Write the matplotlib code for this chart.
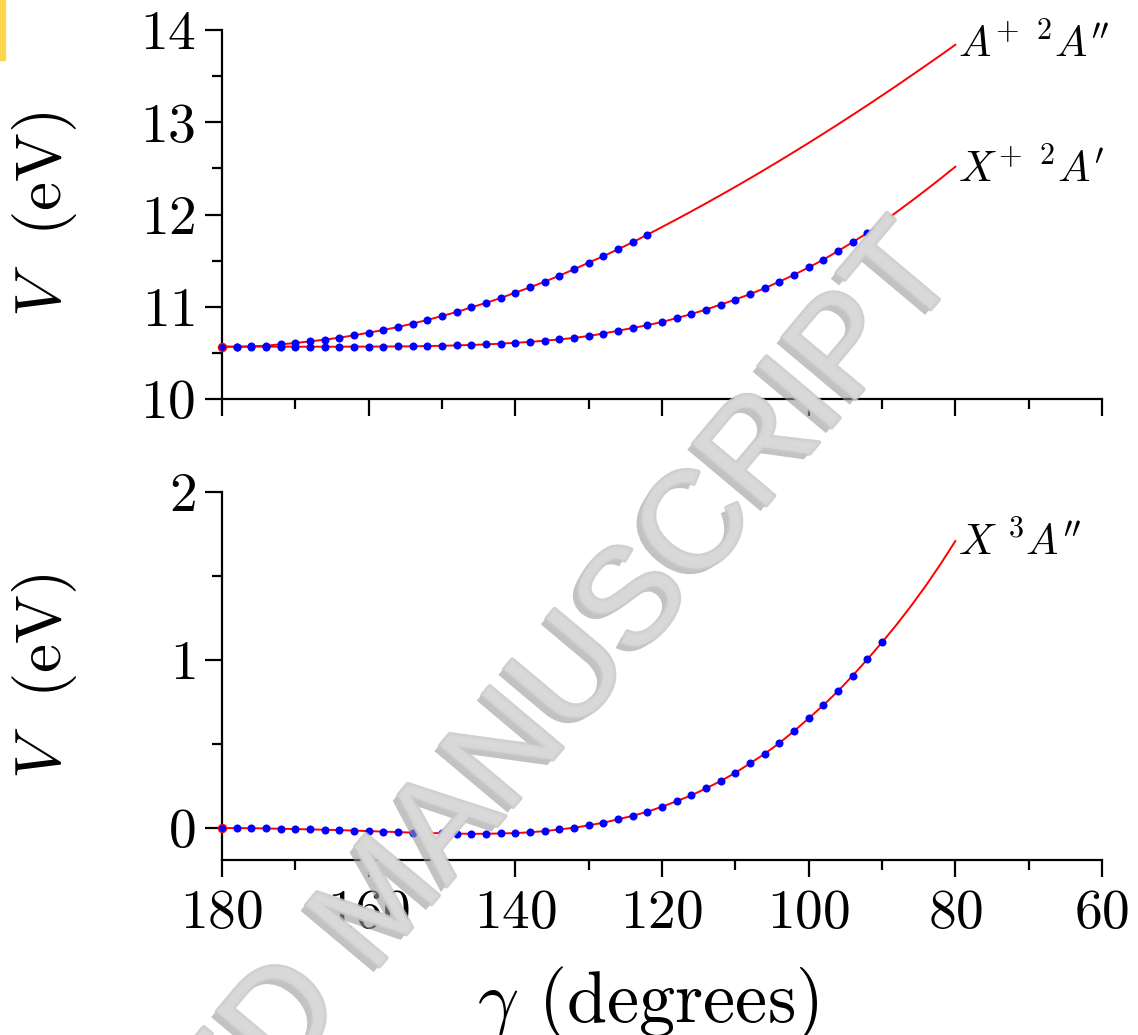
import matplotlib
matplotlib.use("Agg")
import matplotlib.pyplot as plt
from matplotlib.ticker import MultipleLocator
from matplotlib import patheffects as pe
from matplotlib.patches import Rectangle

# ---------------- data ----------------
gamma_dots = [180, 178, 176, 174, 172, 170, 168, 166, 164, 162, 160, 158, 156, 154, 152,
              150, 148, 146, 144, 142, 140, 138, 136, 134, 132, 130, 128, 126, 124, 122,
              120, 118, 116, 114, 112, 110, 108, 106, 104, 102, 100, 98, 96, 94, 92, 90]
gamma_ext = [88, 86, 84, 82, 80]

# A+ 2A'' : dots from 180 to 122, line continues to 80
gamma_Aplus_dots = gamma_dots[:30]
V_Aplus_dots = [10.567, 10.567, 10.571, 10.578, 10.593, 10.607, 10.625, 10.643, 10.665, 10.690,
                10.719, 10.748, 10.781, 10.817, 10.857, 10.900, 10.943, 10.993, 11.042, 11.095,
                11.153, 11.210, 11.272, 11.337, 11.406, 11.478, 11.548, 11.623, 11.699, 11.781]
gamma_Aplus_ext = [120, 118, 116, 114, 112, 110, 108, 106, 104, 102, 100, 98, 96, 94, 92, 90,
                   88, 86, 84, 82, 80]
V_Aplus_ext = [11.864, 11.948, 12.034, 12.121, 12.210, 12.300, 12.392, 12.486, 12.581, 12.678,
               12.776, 12.876, 12.977, 13.080, 13.184, 13.290, 13.397, 13.506, 13.616, 13.727,
               13.840]

# X+ 2A'
V_Xplus_dots = [10.567, 10.567, 10.567, 10.567, 10.567, 10.567, 10.567, 10.567, 10.567, 10.568,
                10.568, 10.569, 10.570, 10.571, 10.574, 10.577, 10.581, 10.586, 10.592, 10.600,
                10.609, 10.619, 10.632, 10.646, 10.662, 10.683, 10.710, 10.740, 10.770, 10.800,
                10.835, 10.877, 10.921, 10.970, 11.023, 11.078, 11.137, 11.201, 11.272, 11.346,
                11.427, 11.510, 11.604, 11.700, 11.800, 11.911]
V_Xplus_ext = [12.027, 12.145, 12.266, 12.390, 12.518]

# X 3A''
V_X3_dots = [0.000, 0.000, -0.001, -0.002, -0.004, -0.006, -0.008, -0.010, -0.012, -0.015,
             -0.018, -0.021, -0.024, -0.027, -0.029, -0.031, -0.033, -0.034, -0.034, -0.032,
             -0.030, -0.025, -0.018, -0.008, 0.002, 0.016, 0.032, 0.052, 0.073, 0.097,
             0.127, 0.160, 0.195, 0.236, 0.280, 0.329, 0.385, 0.442, 0.506, 0.577,
             0.653, 0.731, 0.815, 0.907, 1.004, 1.105]
V_X3_ext = [1.211, 1.324, 1.444, 1.572, 1.708]

label_Aplus = r"$A^{+}\ {}^{2}A^{\prime\prime}$"
label_Xplus = r"$X^{+}\ {}^{2}A^{\prime}$"
label_X3 = r"$X\ {}^{3}A^{\prime\prime}$"

x_ticks = [180, 160, 140, 120, 100, 80, 60]
top_yticks = [10, 11, 12, 13, 14]
bot_yticks = [0, 1, 2]

# ---------------- style ----------------
plt.rcParams['font.family'] = ['cmr10', 'DejaVu Sans']
plt.rcParams['mathtext.fontset'] = 'cm'
plt.rcParams['axes.formatter.use_mathtext'] = True
plt.rcParams['axes.unicode_minus'] = False

W, H = 1138, 1035
fig = plt.figure(figsize=(W / 100, H / 100), dpi=100)

def px_axes(x0, y_top, x1, y_bot):
    return fig.add_axes([x0 / W, 1 - y_bot / H, (x1 - x0) / W, (y_bot - y_top) / H])

ax1 = px_axes(222, 30, 1102, 399)
ax2 = px_axes(222, 492, 1102, 860)

RED = '#ff0000'
BLUE = '#0000ff'
MS = 5.8

def style(ax):
    for s in ['top', 'right']:
        ax.spines[s].set_visible(False)
    for s in ['left', 'bottom']:
        ax.spines[s].set_linewidth(1.6)
    ax.set_xlim(180, 60)
    ax.set_xticks(x_ticks)
    ax.xaxis.set_minor_locator(MultipleLocator(10))
    ax.yaxis.set_minor_locator(MultipleLocator(0.5))
    ax.tick_params(which='major', direction='out', length=12, width=1.6, labelsize=40, pad=7)
    ax.tick_params(which='minor', direction='out', length=7, width=1.6)
    ax.tick_params(axis='x', which='major', pad=9)

# top panel
style(ax1)
ax1.set_ylim(10, 14)
ax1.set_yticks(top_yticks)
ax1.tick_params(axis='x', labelbottom=False)
ax1.plot(gamma_Aplus_dots + gamma_Aplus_ext, V_Aplus_dots + V_Aplus_ext, color=RED, lw=1.4, zorder=2)
ax1.plot(gamma_dots + gamma_ext, V_Xplus_dots + V_Xplus_ext, color=RED, lw=1.4, zorder=2)
ax1.plot(gamma_Aplus_dots[1:], V_Aplus_dots[1:], 'o', color=BLUE, ms=MS, mew=0, zorder=3)
ax1.plot(gamma_dots[1:], V_Xplus_dots[1:], 'o', color=BLUE, ms=MS, mew=0, zorder=3)
ax1.plot(gamma_dots[:1], V_Xplus_dots[:1], 'o', mfc=BLUE, mec=RED, ms=MS, mew=1.0, zorder=4, clip_on=False)
ax1.set_ylabel(r"$V$  (eV)", fontsize=47)
ax1.yaxis.set_label_coords(-0.162, 0.5)
ax1.text(0.836, 0.927, label_Aplus, transform=ax1.transAxes, fontsize=31, va='baseline', ha='left')
ax1.text(0.836, 0.588, label_Xplus, transform=ax1.transAxes, fontsize=31, va='baseline', ha='left')

# bottom panel
style(ax2)
ax2.set_ylim(-0.19, 2)
ax2.set_yticks(bot_yticks)
ax2.plot(gamma_dots + gamma_ext, V_X3_dots + V_X3_ext, color=RED, lw=1.4, zorder=2)
ax2.plot(gamma_dots[1:], V_X3_dots[1:], 'o', color=BLUE, ms=MS, mew=0, zorder=3)
ax2.plot(gamma_dots[:1], V_X3_dots[:1], 'o', mfc=BLUE, mec=RED, ms=MS, mew=1.0, zorder=4, clip_on=False)
ax2.set_ylabel(r"$V$  (eV)", fontsize=47)
ax2.yaxis.set_label_coords(-0.162, 0.5)
ax2.set_xlabel(r"$\gamma$ (degrees)", fontsize=52)
ax2.xaxis.set_label_coords((648 - 222) / 880, -0.285)
ax2.text(0.836, 0.829, label_X3, transform=ax2.transAxes, fontsize=31, va='baseline', ha='left')

# watermark
fig.text(962 / W, 1 - 272 / H, "ACCEPTED MANUSCRIPT", rotation=50, rotation_mode='anchor',
         ha='right', va='baseline', fontsize=100, family='Liberation Sans',
         color='#d9d9d9', alpha=0.85, zorder=20,
         path_effects=[pe.withSimplePatchShadow(offset=(-4, -4), shadow_rgbFace='#9a9a9a', alpha=0.6),
                       pe.Stroke(linewidth=3, foreground='#c8c8c8'),
                       pe.Normal()])

# small yellow mark at top-left
fig.patches.append(Rectangle((0, 1 - 60 / H), 5 / W, 60 / H, transform=fig.transFigure,
                             color='#ffd54f', zorder=0))

fig.savefig("out.png", dpi=100)
